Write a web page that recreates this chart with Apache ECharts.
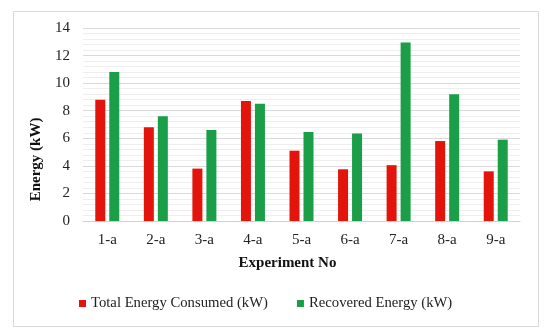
<!DOCTYPE html>
<html><head><meta charset="utf-8">
<script src="https://cdn.jsdelivr.net/npm/echarts@6/dist/echarts.min.js"></script>
<style>html,body{margin:0;padding:0;background:#fff}#c{width:550px;height:334px}</style>
</head><body><div id="c"></div>
<script>
const categories = ['1-a','2-a','3-a','4-a','5-a','6-a','7-a','8-a','9-a'];
const totalConsumed = [8.8, 6.8, 3.8, 8.7, 5.1, 3.75, 4.05, 5.8, 3.6];
const recovered = [10.8, 7.6, 6.6, 8.5, 6.45, 6.35, 12.95, 9.2, 5.9];
const yTicks = [0, 2, 4, 6, 8, 10, 12, 14];
const font = '"Liberation Serif", "Times New Roman", serif';
const chart = echarts.init(document.getElementById('c'));
chart.setOption({
  animation: false,
  graphic: [{type:'rect', shape:{x:13.5,y:11.5,width:525,height:315}, style:{fill:'none', stroke:'#d9d9d9', lineWidth:1}, z:-1}],
  grid: {left: 83, right: 30, top: 28, bottom: 113, containLabel: false},
  legend: {
    left: 74, top: 291, itemWidth: 7, itemHeight: 7, itemGap: 29, icon: 'rect',
    textStyle: {fontFamily: font, fontSize: 14.7, color: '#222'},
    data: ['Total Energy Consumed (kW)', 'Recovered Energy (kW)']
  },
  xAxis: {
    type: 'category', data: categories,
    axisLine: {lineStyle: {color: '#d0d0d0'}}, axisTick: {show: false},
    axisLabel: {fontFamily: font, fontSize: 15, color: '#222', margin: 12},
    name: 'Experiment No', nameLocation: 'middle', nameGap: 35,
    nameTextStyle: {fontFamily: font, fontSize: 15, fontWeight: 'bold', color: '#111', padding: [0, 28, 0, 0]}
  },
  yAxis: {
    type: 'value', min: 0, max: 14, interval: 2,
    axisLine: {show: false}, axisTick: {show: false},
    axisLabel: {fontFamily: font, fontSize: 15, color: '#222', margin: 13,
      formatter: v => yTicks.includes(v) ? String(v) : ''},
    splitLine: {lineStyle: {color: '#d9d9d9'}},
    minorTick: {show: false, splitNumber: 5},
    minorSplitLine: {show: true, lineStyle: {color: '#eeeeee'}},
    name: 'Energy (kW)', nameLocation: 'middle', nameGap: 38, nameRotate: 90,
    nameTextStyle: {fontFamily: font, fontSize: 15, fontWeight: 'bold', color: '#111', padding: [0, 70, 0, 0]}
  },
  series: [
    {name: 'Total Energy Consumed (kW)', type: 'bar', data: totalConsumed, barWidth: 10, barGap: '40%',
      itemStyle: {color: '#e3140c'}},
    {name: 'Recovered Energy (kW)', type: 'bar', data: recovered, barWidth: 10,
      itemStyle: {color: '#1a9e48'}}
  ]
});
</script></body></html>
